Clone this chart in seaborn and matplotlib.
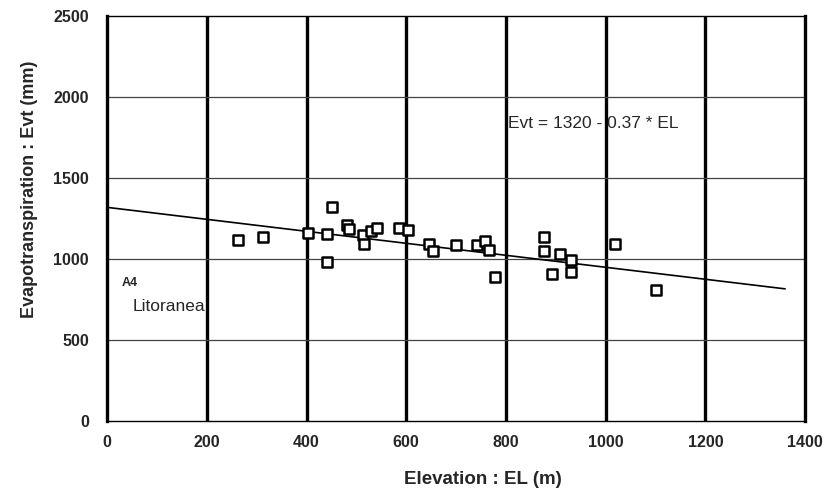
import numpy as np
import pandas as pd
import matplotlib
matplotlib.use("Agg")
import matplotlib.pyplot as plt
import seaborn as sns

# Station elevations (m) and annual evapotranspiration (mm)
elevation = [263, 313, 402, 441, 451, 441, 481, 486, 513, 516, 530, 542, 586, 603,
             646, 653, 700, 742, 759, 767, 779, 876, 876, 908, 930, 893, 930, 1019, 1102]
evapotranspiration = [1120, 1140, 1160, 1154, 1323, 982, 1212, 1187, 1151, 1093, 1175,
                      1191, 1191, 1181, 1093, 1049, 1085, 1085, 1110, 1059, 890, 1134,
                      1053, 1032, 998, 907, 921, 1093, 809]

# Linear fit: Evt = intercept - slope * EL
intercept = 1320
slope = 0.37
fit_range = [0, 1360]

x_ticks = [0, 200, 400, 600, 800, 1000, 1200, 1400]
y_ticks = [0, 500, 1000, 1500, 2000, 2500]

sns.set_theme(style="white")
plt.rcParams["font.family"] = ["Liberation Sans", "DejaVu Sans"]

df = pd.DataFrame({"EL": elevation, "Evt": evapotranspiration})
fit = pd.DataFrame({"EL": fit_range,
                    "Evt": [intercept - slope * v for v in fit_range]})

fig = plt.figure(figsize=(8.24, 4.92), dpi=100)
ax = fig.add_axes([0.130, 0.144, 0.847, 0.823])

ax.set_xlim(0, 1400)
ax.set_ylim(0, 2500)
ax.set_xticks(x_ticks)
ax.set_yticks(y_ticks)

# grid: heavy verticals, light horizontals
for xv in x_ticks[1:-1]:
    ax.axvline(xv, color="black", lw=2.4, zorder=1)
for yv in y_ticks[1:-1]:
    ax.axhline(yv, color="#444444", lw=0.9, zorder=1)

sns.lineplot(data=fit, x="EL", y="Evt", color="black", lw=1.2, ax=ax, zorder=2)
sns.scatterplot(data=df, x="EL", y="Evt", marker="s", s=46, facecolor="white",
                edgecolor="black", linewidth=1.8, ax=ax, zorder=3)

for side in ["left", "right"]:
    ax.spines[side].set_linewidth(2.4)
for side in ["top", "bottom"]:
    ax.spines[side].set_linewidth(1.0)
for sp in ax.spines.values():
    sp.set_color("black")
    sp.set_visible(True)

ax.tick_params(axis="both", which="major", length=3, width=1, color="black",
               labelsize=11.5, direction="out")
ax.tick_params(axis="x", pad=7)
ax.tick_params(axis="y", pad=10)
for lab in ax.get_xticklabels() + ax.get_yticklabels():
    lab.set_fontweight("bold")

ax.set_xlabel("Elevation : EL (m)", fontsize=13.5, fontweight="bold")
ax.set_ylabel("Evapotranspiration : Evt (mm)", fontsize=13, fontweight="bold")
ax.xaxis.set_label_coords(0.539, -0.124)
ax.yaxis.set_label_coords(-0.099, 0.573)

ax.text(805, 1836, "Evt = 1320 - 0.37 * EL", fontsize=12.5, va="center", ha="left",
        zorder=4)
ax.text(29, 854, "A4", fontsize=9, fontweight="bold", va="center", ha="left")
ax.text(51, 707, "Litoranea", fontsize=12.5, va="center", ha="left")

fig.savefig("out.png", dpi=100)
